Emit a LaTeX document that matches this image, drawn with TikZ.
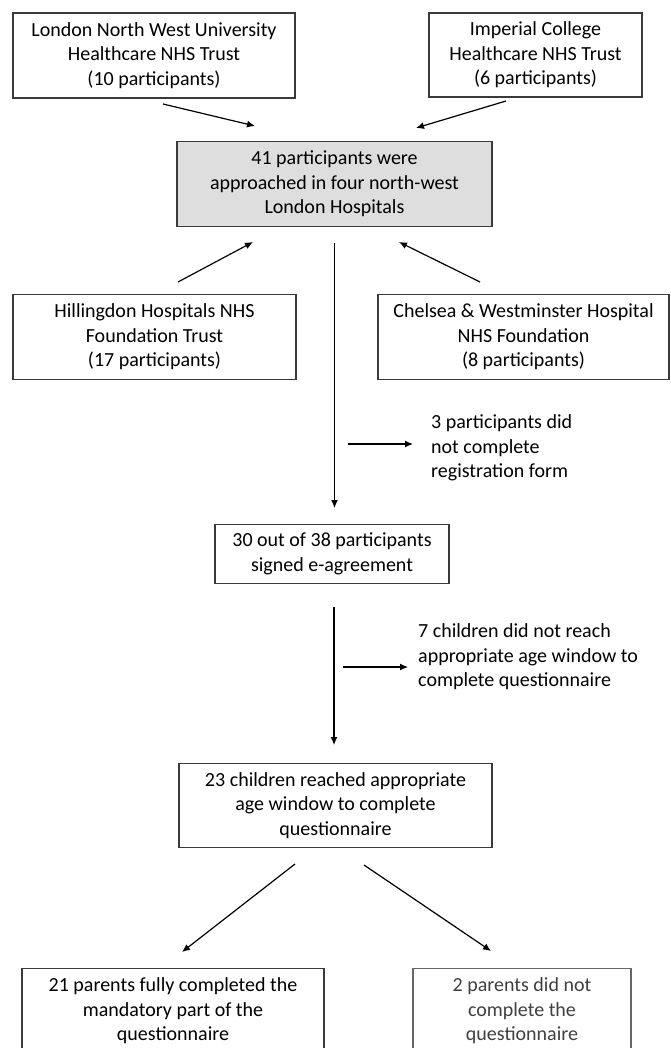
\documentclass[tikz,border=0pt]{standalone}
\usepackage{fontspec}
\setmainfont{Carlito}
\usetikzlibrary{arrows.meta}
\definecolor{boxline}{HTML}{3A3A3A}
\definecolor{boxfill}{HTML}{DEDEDE}
\definecolor{faint}{HTML}{404040}
\definecolor{faintline}{HTML}{666666}
\begin{document}
\begin{tikzpicture}[x=1pt,y=-1pt,
  box/.style={draw=boxline,line width=1.1pt,align=center,inner sep=0pt,
    font=\fontsize{20}{24.5}\selectfont,text=black},
  note/.style={align=left,inner sep=0pt,anchor=west,
    font=\fontsize{20}{24.5}\selectfont,text=black},
  arr/.style={line width=1.2pt,draw=black,-{Latex[length=8pt,width=7pt]}}]
\clip (0,0) rectangle (671,1048);
\fill[white] (0,0) rectangle (671,1048);

% boxes
\node[box,minimum width=282pt,minimum height=85pt] (lnw) at (154,55.5)
  {London North West University\\Healthcare NHS Trust\\(10 participants)};
\node[box,minimum width=213pt,minimum height=84pt] (imp) at (535.5,55)
  {Imperial College\\Healthcare NHS Trust\\(6 participants)};
\node[box,fill=boxfill,minimum width=315pt,minimum height=85pt] (main) at (334.5,184)
  {41 participants were\\approached in four north-west\\London Hospitals};
\node[box,minimum width=283pt,minimum height=85pt] (hil) at (154.5,337)
  {Hillingdon Hospitals NHS\\Foundation Trust\\(17 participants)};
\node[box,minimum width=291pt,minimum height=85pt] (che) at (523.5,337)
  {Chelsea \& Westminster Hospital\\NHS Foundation\\(8 participants)};
\node[box,minimum width=234pt,minimum height=59pt] (s30) at (332,554)
  {30 out of 38 participants\\signed e-agreement};
\node[box,minimum width=313pt,minimum height=84pt] (c23) at (335.5,805.5)
  {23 children reached appropriate\\age window to complete\\questionnaire};
\node[box,minimum width=302pt,minimum height=85pt] (p21) at (173,1011)
  {21 parents fully completed the\\mandatory part of the\\questionnaire};
\node[box,draw=faintline,text=faint,minimum width=218pt,minimum height=85pt] (p2) at (522,1011)
  {2 parents did not\\complete the\\questionnaire};

% side notes
\node[note] (t3) at (431,448) {3 participants did\\not complete\\registration form};
\node[note] (t7) at (418,657) {7 children did not reach\\appropriate age window to\\complete questionnaire};

% connector end points
\coordinate (a1s) at (163,104);  \coordinate (a1e) at (255,126);
\coordinate (a2s) at (506,101);  \coordinate (a2e) at (416,128);
\coordinate (a3s) at (178,282);  \coordinate (a3e) at (253,242);
\coordinate (a4s) at (480,282);  \coordinate (a4e) at (399,242);
\coordinate (v1s) at (334.5,243); \coordinate (v1e) at (334.5,508);
\coordinate (h1s) at (348,444);  \coordinate (h1e) at (413,444);
\coordinate (v2s) at (334,607);  \coordinate (v2e) at (334,745);
\coordinate (h2s) at (343,667);  \coordinate (h2e) at (408,667);
\coordinate (d1s) at (295,864);  \coordinate (d1e) at (182,952);
\coordinate (d2s) at (364,865);  \coordinate (d2e) at (491,951);

\draw[arr] (a1s) -- (a1e);
\draw[arr] (a2s) -- (a2e);
\draw[arr] (a3s) -- (a3e);
\draw[arr] (a4s) -- (a4e);
\draw[arr] (v1s) -- (v1e);
\draw[arr] (h1s) -- (h1e);
\draw[arr] (v2s) -- (v2e);
\draw[arr] (h2s) -- (h2e);
\draw[arr] (d1s) -- (d1e);
\draw[arr] (d2s) -- (d2e);
\end{tikzpicture}
\end{document}
